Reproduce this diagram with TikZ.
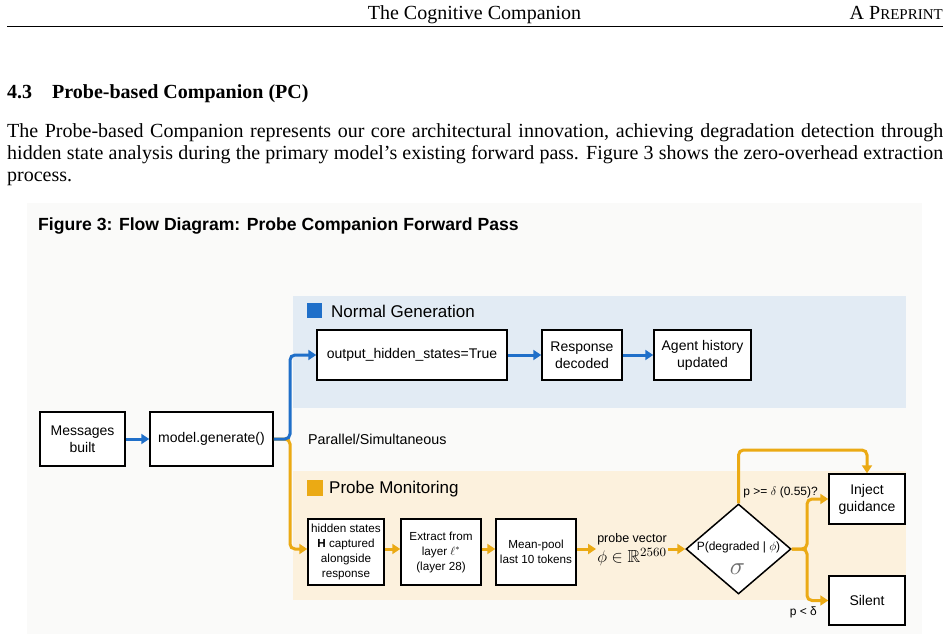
\documentclass[tikz,border=0pt]{standalone}
\usepackage{amsmath,amssymb}
\usepackage{fontspec}
\setmainfont{Liberation Serif}
\setsansfont{Liberation Sans}
\usetikzlibrary{arrows.meta,shapes.geometric,calc}
\definecolor{bluearr}{HTML}{1F6FC9}
\definecolor{orgarr}{HTML}{EBAA14}
\definecolor{bluepanel}{HTML}{E2EBF4}
\definecolor{tanpanel}{HTML}{FCF1DD}
\definecolor{figbg}{HTML}{FAFAF9}
\definecolor{sigmagray}{HTML}{6E6E6E}
\begin{document}
\begin{tikzpicture}[x=1pt,y=-1pt,
  serif/.style={inner sep=0pt,font=\fontsize{20}{22}\selectfont},
  box/.style={draw=black,line width=1.5pt,fill=white,inner sep=1pt,align=center,
    font=\fontsize{14}{17}\selectfont\sffamily},
  pbox/.style={box,font=\fontsize{11.7}{15}\selectfont\sffamily},
  lab/.style={inner sep=1pt,align=center,font=\fontsize{12.5}{20}\selectfont\sffamily},
  barr/.style={draw=bluearr,line width=3pt,-{Triangle[length=8pt,width=10pt]},rounded corners=5pt},
  oarr/.style={barr,draw=orgarr}]
\useasboundingbox (0,0) rectangle (949,634);
\fill[white] (0,0) rectangle (949,634);
% page header
\node[serif,anchor=base] (hdr) at (474.5,20) {The Cognitive Companion};
\node[serif,anchor=base east] (pre) at (943,20) {A P{\fontsize{15}{15}\selectfont REPRINT}};
\draw[line width=1pt] (7,27) -- (943,27);
% heading
\node[serif,anchor=base west,font=\fontsize{20}{22}\selectfont\bfseries] (secn) at (7,98) {4.3};
\node[serif,anchor=base west,font=\fontsize{20}{22}\selectfont\bfseries] (sect) at (52,98) {Probe-based Companion (PC)};
% paragraph
\node[serif,anchor=base west] (p1) at (7,137) {\makebox[936pt][s]{The Probe-based Companion represents our core architectural innovation, achieving degradation detection through}};
\node[serif,anchor=base west] (p2) at (7,159) {\makebox[936pt][s]{hidden state analysis during the primary model's existing forward pass. Figure 3 shows the zero-overhead extraction}};
\node[serif,anchor=base west] (p3) at (7,181) {process.};
% figure background
\fill[figbg] (27,203) rectangle (922,634);
\node[anchor=west,inner sep=0pt,font=\fontsize{17.6}{18}\selectfont\sffamily\bfseries] (ftitle) at (38,226) {Figure 3: Flow Diagram: Probe Companion Forward Pass};
% panels
\fill[bluepanel] (293,296) rectangle (906,408);
\fill[tanpanel] (293,471) rectangle (906,600);
\fill[bluearr] (307,303) rectangle (322,318);
\node[anchor=west,inner sep=0pt,font=\fontsize{17}{17}\selectfont\sffamily] (ngl) at (331,311) {Normal Generation};
\fill[orgarr] (307,480) rectangle (323,496);
\node[anchor=west,inner sep=0pt,font=\fontsize{17}{17}\selectfont\sffamily] (pml) at (329,489) {Probe Monitoring};
\node[anchor=west,inner sep=0pt,font=\fontsize{14.3}{17}\selectfont\sffamily] (par) at (308,439) {Parallel/Simultaneous};
% nodes
\node[box,minimum width=85pt,minimum height=54pt] (msg) at (82.5,439) {Messages\\built};
\node[box,minimum width=123pt,minimum height=54pt] (gen) at (211.5,439) {model.generate()};
\node[box,minimum width=190pt,minimum height=50pt] (ohs) at (412,355) {output\_hidden\_states=True};
\node[box,minimum width=80pt,minimum height=50pt] (resp) at (582,355) {Response\\decoded};
\node[box,minimum width=97pt,minimum height=50pt] (hist) at (702.5,355) {Agent history\\updated};
\node[pbox,minimum width=76pt,minimum height=66pt] (hid) at (346,552) {hidden states\\\textbf{H} captured\\alongside\\response};
\node[pbox,minimum width=80pt,minimum height=66pt] (ext) at (441,552) {Extract from\\layer $\ell^*$\\(layer 28)};
\node[pbox,minimum width=80pt,minimum height=66pt] (mp) at (536,552) {Mean-pool\\last 10 tokens};
\node[lab] (pv) at (632,550) {probe vector\\\scalebox{1.4}{$\phi\in\mathbb{R}^{2560}$}};
\node[diamond,draw=black,line width=1.5pt,fill=white,minimum width=105pt,minimum height=90pt,inner sep=0pt] (dia) at (738.5,549) {};
\node[lab,font=\fontsize{12}{14}\selectfont\sffamily] (dtxt) at (738.5,547) {P(degraded | $\phi$)};
\node[inner sep=0pt,text=sigmagray] (sig) at (737.5,569) {\scalebox{2.5}{$\sigma$}};
\node[box,minimum width=76pt,minimum height=50pt] (inj) at (867,499) {Inject\\guidance};
\node[box,minimum width=76pt,minimum height=49pt] (sil) at (867,600.5) {Silent};
\node[lab,font=\fontsize{12}{14}\selectfont\sffamily,anchor=east] (l1) at (819,492) {p >= $\delta$ (0.55)?};
\node[lab,font=\fontsize{12}{14}\selectfont\sffamily,anchor=east] (l2) at (818,612) {p < δ};
% connectors
\coordinate (split) at (290,439);
\coordinate (br) at (807,549);
\coordinate (topc) at (867,450);
\coordinate (hin) at (hid.west |- 0,549);
\draw[barr] (msg) -- (gen);
\draw[oarr] (gen.east) -- (split) |- (hin);
\draw[barr] (gen.east) -- (split) |- (ohs.west);
\draw[barr] (ohs) -- (resp);
\draw[barr] (resp) -- (hist);
\draw[oarr] (hid.east |- 0,549) -- (ext.west |- 0,549);
\draw[oarr] (ext.east |- 0,549) -- (mp.west |- 0,549);
\draw[oarr] (mp.east |- 0,549) -- (pv.west |- 0,549);
\draw[oarr] (pv.east |- dia.west) -- (dia.west);
\draw[oarr] (dia.north) |- (topc) -- (inj.north);
\draw[oarr] (dia.east) -- (br) |- (inj.west);
\draw[oarr] (dia.east) -- (br) |- (sil.west);
\end{tikzpicture}
\end{document}
